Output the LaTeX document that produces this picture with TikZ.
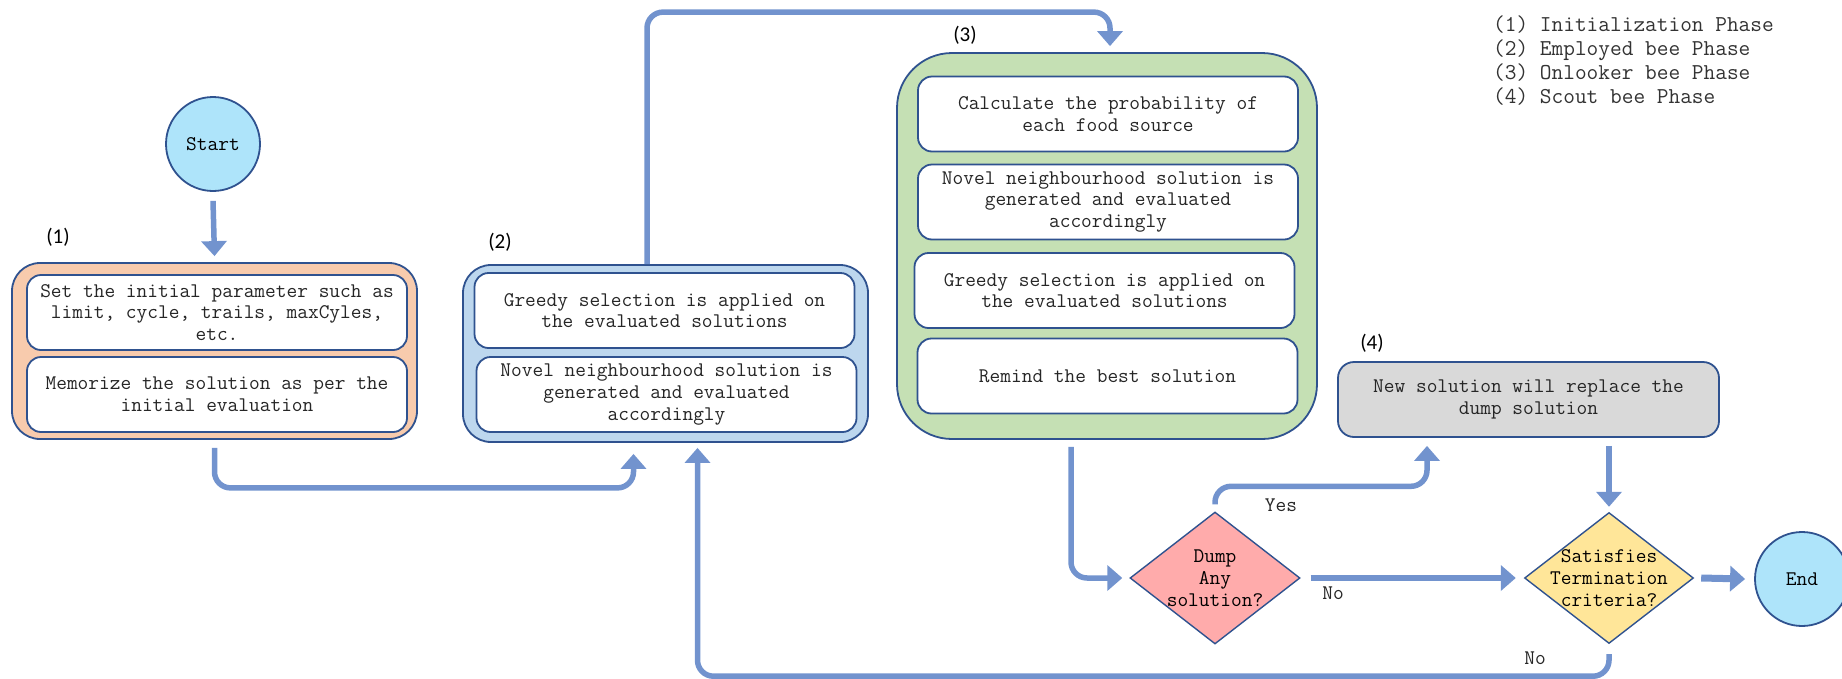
\documentclass[tikz,border=0pt]{standalone}
\usepackage{fontspec}
\newfontfamily\phasefont{Carlito}
\usetikzlibrary{shapes.geometric,arrows.meta}

\definecolor{edgeblue}{RGB}{47,82,143}
\definecolor{flowblue}{RGB}{114,147,206}
\definecolor{peach}{RGB}{248,203,173}
\definecolor{paleblue}{RGB}{189,215,238}
\definecolor{palegreen}{RGB}{197,224,180}
\definecolor{palegray}{RGB}{217,217,217}
\definecolor{skyblue}{RGB}{174,228,250}
\definecolor{rose}{RGB}{255,171,171}
\definecolor{sand}{RGB}{255,230,153}

\begin{document}
\begin{tikzpicture}[x=1pt,y=-1pt]

    \tikzset{phasebox/.style={draw=edgeblue,line width=1.8pt,rounded corners=28pt,inner sep=0pt},
             stepbox/.style={draw=edgeblue,line width=1.8pt,fill=white,rounded corners=14pt,
                             minimum width=380,minimum height=75,inner sep=0pt,align=center,
                             text=black!85,font=\ttfamily\fontsize{20.8}{21.8}\selectfont},
             terminal/.style={draw=edgeblue,line width=1.8pt,fill=skyblue,shape=circle,
                              minimum size=94,inner sep=0pt,font=\ttfamily\fontsize{20.8}{21.8}\selectfont},
             decision/.style={draw=edgeblue,line width=1.4pt,shape=diamond,aspect=1.29,inner sep=-8pt,
                              minimum width=170,minimum height=132,align=center,
                              font=\ttfamily\fontsize{20.8}{21.8}\selectfont},
             phaselabel/.style={inner sep=0pt,font=\phasefont\fontsize{21}{24}\selectfont},
             edgelabel/.style={inner sep=0pt,text=black!85,font=\ttfamily\fontsize{20.8}{21.8}\selectfont},
             flow/.style={draw=flowblue,line width=5.5pt,rounded corners=16pt,
                          -{Triangle[width=25pt,length=15pt]}}}

    \useasboundingbox (0,0) rectangle (1842,678);

    % Initialization phase
    \node[phasebox,fill=peach,minimum width=405,minimum height=176] (init) at ( 214.5, 351) {};
    \node[stepbox] (initA) at ( 217, 312.5) {Set the initial parameter such as\\limit, cycle, trails, maxCyles,\\etc.};
    \node[stepbox] (initB) at ( 217, 394.5) {Memorize the solution as per the\\initial evaluation};

    % Employed bee phase
    \node[phasebox,fill=paleblue,minimum width=405,minimum height=177] (emp) at ( 665.5, 353.5) {};
    \node[stepbox] (empA) at ( 664.5, 310.5) {Greedy selection is applied on\\the evaluated solutions};
    \node[stepbox] (empB) at ( 666.5, 394.5) {Novel neighbourhood solution is\\generated and evaluated\\accordingly};

    % Onlooker bee phase
    \node[phasebox,fill=palegreen,rounded corners=55pt,minimum width=420,minimum height=386] (onl) at ( 1107, 246) {};
    \node[stepbox] (onlA) at ( 1108, 114) {Calculate the probability of\\each food source};
    \node[stepbox] (onlB) at ( 1108, 202) {Novel neighbourhood solution is\\generated and evaluated\\accordingly};
    \node[stepbox] (onlC) at ( 1104.5, 290.5) {Greedy selection is applied on\\the evaluated solutions};
    \node[stepbox] (onlD) at ( 1107.5, 376) {Remind the best solution};

    % Scout bee phase
    \node[stepbox,fill=palegray,minimum width=381,rounded corners=16pt] (scout) at ( 1528.5, 399.5) {New solution will replace the\\dump solution};

    \node[terminal] (start) at ( 213, 144) {Start};
    \node[terminal] (stop) at ( 1802, 579) {End};
    \node[decision,fill=rose] (dump) at ( 1215, 578) {Dump\\Any\\solution?};
    \node[decision,fill=sand,minimum width=169,minimum height=131] (term) at ( 1609, 578) {Satisfies\\Termination\\criteria?};

    \node[phaselabel] (lab1) at ( 58, 237) {(1)};
    \node[phaselabel] (lab2) at ( 500, 242) {(2)};
    \node[phaselabel] (lab3) at ( 965, 35) {(3)};
    \node[phaselabel] (lab4) at ( 1372, 343) {(4)};

    \node[edgelabel,anchor=west,align=left,text=black!80,font=\ttfamily\fontsize{22.7}{24}\selectfont] (legend) at ( 1493, 61)
        {(1) Initialization Phase\\(2) Employed bee Phase\\(3) Onlooker bee Phase\\(4) Scout bee Phase};

    \draw[flow] ([yshift=-9pt]start.south) -- ([yshift=6pt]init.north);
    \draw[flow] ([yshift=-8pt]init.south) -- ++(0,40) -| ([xshift=-32pt,yshift=-11pt]emp.south);
    \draw[flow] ([xshift=-18.5pt]emp.north) -- ++(0,-252) -| ([xshift=3pt,yshift=6pt]onl.north);
    \draw[flow] ([xshift=-36pt,yshift=-7pt]onl.south) |- ([xshift=-7pt]dump.west);
    \draw[flow] ([yshift=7pt]dump.north) -- ++(0,-18) -| ([xshift=-101.5pt,yshift=-8pt]scout.south);
    \draw[flow] ([xshift=10pt]dump.east) -- ([xshift=-8pt]term.west);
    \draw[flow,shorten <=8pt,shorten >=5pt] (term.north |- scout.south) -- (term.north);
    \draw[flow,line width=7pt] ([xshift=7pt]term.east) -- ([xshift=-9pt]stop.west);
    \draw[flow] ([yshift=-10pt]term.south) -- ++(0,22) -| ([xshift=32pt,yshift=-5pt]emp.south);

    \node[edgelabel] (yes) at ( 1281, 505) {Yes};
    \node[edgelabel] (noA) at ( 1333, 593) {No};
    \node[edgelabel] (noB) at ( 1535, 658) {No};

\end{tikzpicture}
\end{document}
